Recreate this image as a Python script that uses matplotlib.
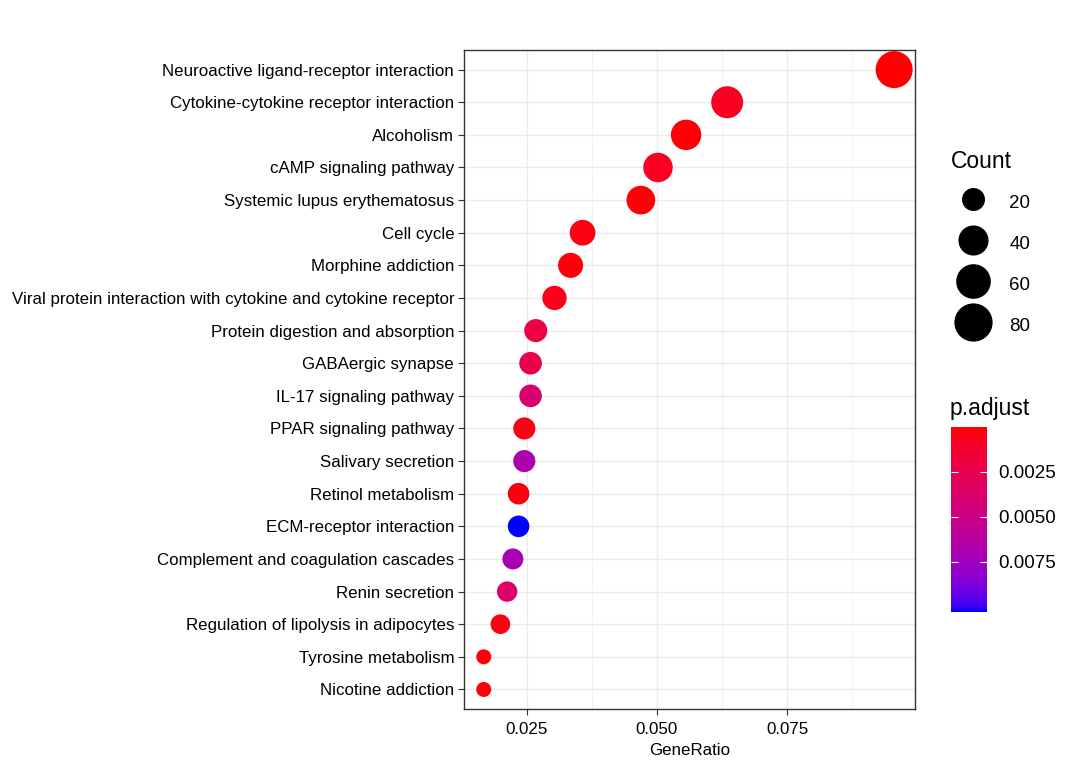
import numpy as np
import matplotlib
matplotlib.use("Agg")
import matplotlib.pyplot as plt
from matplotlib.colors import LinearSegmentedColormap, Normalize
from matplotlib.lines import Line2D

plt.rcParams['font.family'] = ['Liberation Sans', 'DejaVu Sans']

# KEGG enrichment results, top to bottom as drawn
pathways = [
    "Neuroactive ligand-receptor interaction",
    "Cytokine-cytokine receptor interaction",
    "Alcoholism",
    "cAMP signaling pathway",
    "Systemic lupus erythematosus",
    "Cell cycle",
    "Morphine addiction",
    "Viral protein interaction with cytokine and cytokine receptor",
    "Protein digestion and absorption",
    "GABAergic synapse",
    "IL-17 signaling pathway",
    "PPAR signaling pathway",
    "Salivary secretion",
    "Retinol metabolism",
    "ECM-receptor interaction",
    "Complement and coagulation cascades",
    "Renin secretion",
    "Regulation of lipolysis in adipocytes",
    "Tyrosine metabolism",
    "Nicotine addiction",
]
gene_ratio = [0.0956, 0.0635, 0.0556, 0.0502, 0.0469, 0.0357, 0.0334, 0.0303,
              0.0267, 0.0257, 0.0257, 0.0245, 0.0245, 0.0234, 0.0234, 0.0223,
              0.0212, 0.0199, 0.0167, 0.0167]
counts = [81, 54, 47, 43, 40, 30, 28, 26, 23, 22, 22, 21, 21, 20, 20, 19, 18, 17, 14, 14]
p_adjust = [0.00001, 0.0008, 0.0001, 0.0008, 0.0001, 0.0004, 0.0002, 0.0005,
            0.0021, 0.0024, 0.0040, 0.0004, 0.0068, 0.0003, 0.0103, 0.0071,
            0.0037, 0.0004, 0.0002, 0.0002]
count_breaks = [20, 40, 60, 80]
padj_ticks = [0.0025, 0.0050, 0.0075]


def srgb_to_lab(rgb):
    c = np.asarray(rgb, dtype=float)
    lin = np.where(c <= 0.04045, c / 12.92, ((c + 0.055) / 1.055) ** 2.4)
    m = np.array([[0.4124, 0.3576, 0.1805],
                  [0.2126, 0.7152, 0.0722],
                  [0.0193, 0.1192, 0.9505]])
    xyz = m @ lin / np.array([0.95047, 1.0, 1.08883])
    f = np.where(xyz > 0.008856, np.cbrt(xyz), 7.787 * xyz + 16 / 116)
    return np.array([116 * f[1] - 16, 500 * (f[0] - f[1]), 200 * (f[1] - f[2])])


def lab_to_srgb(lab):
    L, a, b = lab
    fy = (L + 16) / 116
    fx = fy + a / 500
    fz = fy - b / 200
    f = np.array([fx, fy, fz])
    xyz = np.where(f ** 3 > 0.008856, f ** 3, (f - 16 / 116) / 7.787)
    xyz = xyz * np.array([0.95047, 1.0, 1.08883])
    m = np.array([[3.2406, -1.5372, -0.4986],
                  [-0.9689, 1.8758, 0.0415],
                  [0.0557, -0.2040, 1.0570]])
    lin = np.clip(m @ xyz, 0, 1)
    c = np.where(lin <= 0.0031308, 12.92 * lin, 1.055 * lin ** (1 / 2.4) - 0.055)
    return np.clip(c, 0, 1)


# red -> blue gradient interpolated in Lab, like ggplot
lab_lo = srgb_to_lab([1, 0, 0])
lab_hi = srgb_to_lab([0, 0, 1])
stops = [lab_to_srgb(lab_lo + (lab_hi - lab_lo) * t) for t in np.linspace(0, 1, 32)]
cmap = LinearSegmentedColormap.from_list("redblue", stops)
norm = Normalize(vmin=0.00001, vmax=0.0103)


def dot_size(n):
    # diameter in px scaled by sqrt of count, converted to points^2
    cmin, cmax = min(counts), max(counts)
    d_px = 15 + 22 * np.sqrt((np.asarray(n, dtype=float) - cmin) / (cmax - cmin))
    return (d_px * 72 / 100) ** 2


fig = plt.figure(figsize=(10.8, 7.71), dpi=100)
ax = fig.add_axes([0.4296, 0.0804, 0.4176, 0.8547])

ypos = np.arange(len(pathways))[::-1]
sc = ax.scatter(gene_ratio, ypos, s=dot_size(counts), c=p_adjust, cmap=cmap,
                norm=norm, edgecolors='none', zorder=3)

ax.set_xlim(0.0129, 0.0996)
ax.set_ylim(-0.6, len(pathways) - 0.4)
ax.set_yticks(ypos)
ax.set_yticklabels(pathways, fontsize=12.2, color='black')
ax.set_xticks([0.025, 0.050, 0.075])
ax.set_xticklabels(["0.025", "0.050", "0.075"], fontsize=12.2, color='black')
ax.set_xticks([0.0375, 0.0625, 0.0875], minor=True)
ax.tick_params(axis='both', which='major', length=4, width=0.8, color='#333333')
ax.tick_params(axis='y', pad=3)
ax.tick_params(axis='x', pad=5)
ax.tick_params(axis='x', which='minor', length=0)
ax.grid(True, which='major', color='#EBEBEB', linewidth=1.0, zorder=0)
ax.grid(True, which='minor', axis='x', color='#EBEBEB', linewidth=0.5, zorder=0)
ax.set_axisbelow(True)
for sp in ax.spines.values():
    sp.set_color('#333333')
    sp.set_linewidth(1.0)
ax.set_xlabel("GeneRatio", fontsize=12.2, labelpad=5)

# size legend
handles = [Line2D([], [], marker='o', linestyle='', color='black',
                  markersize=np.sqrt(dot_size(v))) for v in count_breaks]
leg = fig.legend(handles, [str(v) for v in count_breaks], title="Count",
                 loc='upper left', bbox_to_anchor=(0.880, 0.805), frameon=False,
                 fontsize=13.5, title_fontsize=16.5, handleheight=1.6,
                 handlelength=2.45, labelspacing=0.9, handletextpad=0.7,
                 borderpad=0, borderaxespad=0)
leg._legend_box.align = "left"

# colour bar
cax = fig.add_axes([0.8806, 0.2062, 0.0333, 0.24])
cb = fig.colorbar(sc, cax=cax)
cb.outline.set_visible(False)
cax.invert_yaxis()
cb.set_ticks(padj_ticks)
cb.set_ticklabels(["0.0025", "0.0050", "0.0075"])
cax.tick_params(direction='in', length=5, color='white', width=0.8,
                labelsize=13.5, pad=8, left=True, right=True)
fig.text(0.879, 0.455, "p.adjust", fontsize=16.5, ha='left', va='bottom')

fig.savefig("out.png", dpi=100)
